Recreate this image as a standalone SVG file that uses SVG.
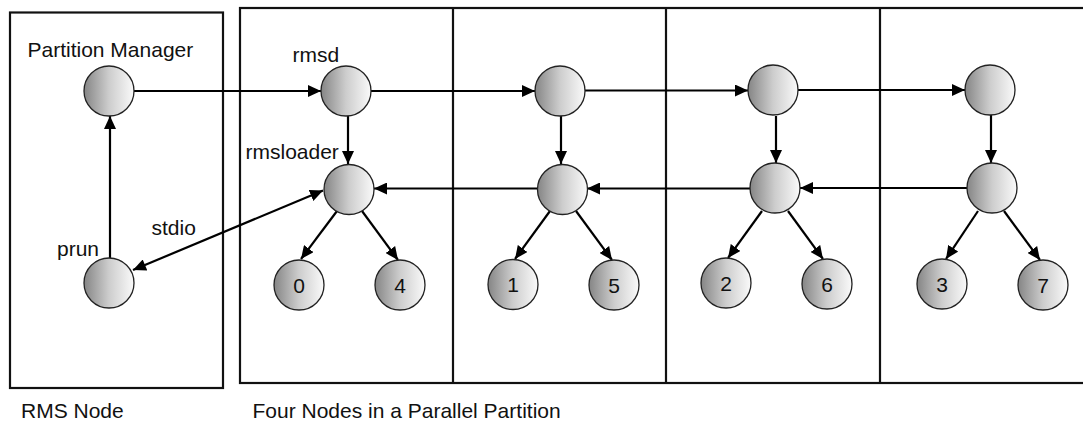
<svg xmlns="http://www.w3.org/2000/svg" width="1083" height="421" viewBox="0 0 1083 421">
  <style>
    .box { fill: none; stroke: #111; stroke-width: 2.2; }
    .node { fill: url(#ball); stroke: #222; stroke-width: 1.3; }
    .edge { fill: none; stroke: #000; stroke-width: 2.2; }
    .lbl { font-family: "Liberation Sans", Arial, sans-serif; font-size: 21px; fill: #111; }
    .num { font-family: "Liberation Sans", Arial, sans-serif; font-size: 21px; fill: #111; text-anchor: middle; }
  </style>
  <defs>
    <linearGradient id="ball" x1="0" y1="0" x2="1" y2="0">
      <stop offset="0" stop-color="#858585"/>
      <stop offset="0.5" stop-color="#cdcdcd"/>
      <stop offset="1" stop-color="#fafafa"/>
    </linearGradient>
    <marker id="arrow" markerUnits="userSpaceOnUse" markerWidth="14" markerHeight="12" refX="13" refY="6" orient="auto">
      <path d="M0,0 L13,6 L0,12 z" fill="#000"/>
    </marker>
    <marker id="arrowStart" markerUnits="userSpaceOnUse" markerWidth="14" markerHeight="12" refX="0" refY="6" orient="auto">
      <path d="M13,0 L0,6 L13,12 z" fill="#000"/>
    </marker>
  </defs>

  <!-- enclosures -->
  <g id="rms-node-box">
    <rect class="box" x="10" y="12.5" width="213" height="375.5"/>
  </g>
  <g id="partition-box">
    <rect class="box" x="240" y="8" width="850" height="375"/>
    <line class="box" x1="453" y1="8" x2="453" y2="383"/>
    <line class="box" x1="666" y1="8" x2="666" y2="383"/>
    <line class="box" x1="880" y1="8" x2="880" y2="383"/>
  </g>

  <!-- connectors -->
  <g id="connectors">
    <line class="edge" x1="134" y1="91" x2="321" y2="91" marker-end="url(#arrow)"/>
    <line class="edge" x1="371" y1="91" x2="535" y2="91" marker-end="url(#arrow)"/>
    <line class="edge" x1="585" y1="90.5" x2="748" y2="90.5" marker-end="url(#arrow)"/>
    <line class="edge" x1="798" y1="90" x2="965" y2="90" marker-end="url(#arrow)"/>

    <line class="edge" x1="348" y1="116" x2="348" y2="164" marker-end="url(#arrow)"/>
    <line class="edge" x1="561" y1="116" x2="561" y2="164" marker-end="url(#arrow)"/>
    <line class="edge" x1="776" y1="116" x2="776" y2="163" marker-end="url(#arrow)"/>
    <line class="edge" x1="991" y1="115" x2="991" y2="163" marker-end="url(#arrow)"/>

    <line class="edge" x1="967" y1="188" x2="800" y2="188" marker-end="url(#arrow)"/>
    <line class="edge" x1="750" y1="188.5" x2="587" y2="188.5" marker-end="url(#arrow)"/>
    <line class="edge" x1="537" y1="188.5" x2="374" y2="188.5" marker-end="url(#arrow)"/>

    <line class="edge" x1="337" y1="211" x2="301" y2="259" marker-end="url(#arrow)"/>
    <line class="edge" x1="362" y1="211" x2="398" y2="260" marker-end="url(#arrow)"/>
    <line class="edge" x1="550" y1="211" x2="515" y2="259" marker-end="url(#arrow)"/>
    <line class="edge" x1="576" y1="211" x2="612" y2="260" marker-end="url(#arrow)"/>
    <line class="edge" x1="762" y1="211" x2="728" y2="258" marker-end="url(#arrow)"/>
    <line class="edge" x1="788" y1="211" x2="823" y2="259" marker-end="url(#arrow)"/>
    <line class="edge" x1="978" y1="211" x2="946" y2="259" marker-end="url(#arrow)"/>
    <line class="edge" x1="1004" y1="211" x2="1040" y2="260" marker-end="url(#arrow)"/>

    <line class="edge" x1="110" y1="258" x2="110" y2="116" marker-end="url(#arrow)"/>
    <line class="edge" x1="133" y1="270" x2="323" y2="190.5" marker-start="url(#arrowStart)" marker-end="url(#arrow)"/>
  </g>

  <!-- RMS node processes -->
  <g id="partition-manager">
    <circle class="node" cx="109" cy="91" r="25"/>
    <text class="lbl" x="27.5" y="57">Partition Manager</text>
  </g>
  <g id="prun">
    <circle class="node" cx="109" cy="283" r="25"/>
    <text class="lbl" x="57" y="256">prun</text>
  </g>
  <g id="stdio-label">
    <text class="lbl" x="151.5" y="235">stdio</text>
  </g>

  <!-- node 1 -->
  <g id="rmsd-1">
    <circle class="node" cx="346" cy="91" r="25"/>
    <text class="lbl" x="292.5" y="61.5">rmsd</text>
  </g>
  <g id="rmsloader-1">
    <circle class="node" cx="349" cy="189.5" r="25"/>
    <text class="lbl" x="245.5" y="159">rmsloader</text>
  </g>
  <g id="proc-0"><circle class="node" cx="299" cy="285" r="25"/><text class="num" x="299" y="292.5">0</text></g>
  <g id="proc-4"><circle class="node" cx="400" cy="285" r="25"/><text class="num" x="400" y="292.5">4</text></g>

  <!-- node 2 -->
  <g id="rmsd-2"><circle class="node" cx="560" cy="91" r="25"/></g>
  <g id="rmsloader-2"><circle class="node" cx="562.5" cy="189.5" r="25"/></g>
  <g id="proc-1"><circle class="node" cx="513" cy="284.5" r="25"/><text class="num" x="513" y="292">1</text></g>
  <g id="proc-5"><circle class="node" cx="614" cy="285" r="25"/><text class="num" x="614" y="292.5">5</text></g>

  <!-- node 3 -->
  <g id="rmsd-3"><circle class="node" cx="773" cy="90" r="25"/></g>
  <g id="rmsloader-3"><circle class="node" cx="775" cy="188" r="25"/></g>
  <g id="proc-2"><circle class="node" cx="726" cy="283" r="25"/><text class="num" x="726" y="290.5">2</text></g>
  <g id="proc-6"><circle class="node" cx="827" cy="284" r="25"/><text class="num" x="827" y="291.5">6</text></g>

  <!-- node 4 -->
  <g id="rmsd-4"><circle class="node" cx="990" cy="90" r="25"/></g>
  <g id="rmsloader-4"><circle class="node" cx="992" cy="188" r="25"/></g>
  <g id="proc-3"><circle class="node" cx="942" cy="284" r="25"/><text class="num" x="942" y="291.5">3</text></g>
  <g id="proc-7"><circle class="node" cx="1043" cy="285" r="25"/><text class="num" x="1043" y="292.5">7</text></g>

  <!-- captions -->
  <g id="captions">
    <text class="lbl" x="21" y="418">RMS Node</text>
    <text class="lbl" x="252.5" y="418">Four Nodes in a Parallel Partition</text>
  </g>
</svg>
